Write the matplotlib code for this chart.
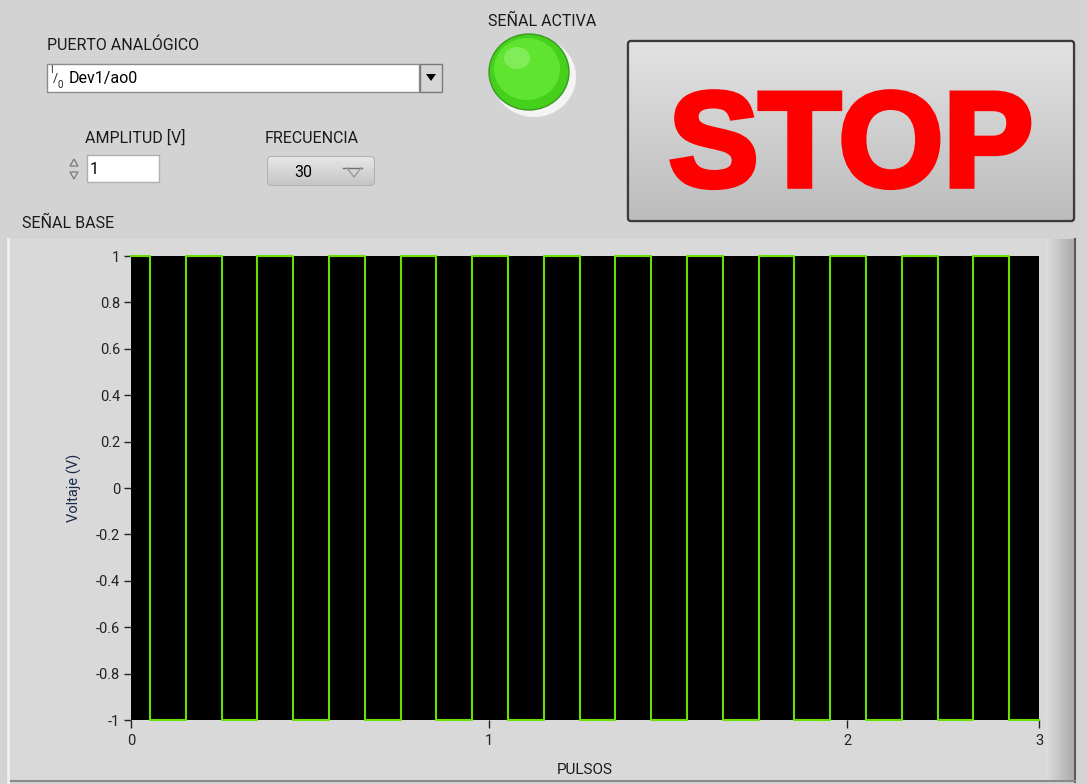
"""Panel de generación de señal cuadrada (réplica estilo LabVIEW)."""
import matplotlib

matplotlib.use("Agg")
import matplotlib.pyplot as plt
import matplotlib.patheffects as pe
import numpy as np
from matplotlib.patches import Rectangle, FancyBboxPatch, Ellipse, Polygon

# --- datos ---
pulse_t = [0.0, 0.053, 0.153, 0.253, 0.353, 0.453, 0.553, 0.653, 0.753,
           0.853, 0.953, 1.053, 1.153, 1.253, 1.353, 1.453, 1.553, 1.653,
           1.753, 1.853, 1.953, 2.053, 2.153, 2.253, 2.353, 2.453, 2.536]
pulse_v = [1, -1, 1, -1, 1, -1, 1, -1, 1, -1, 1, -1, 1, -1, 1, -1, 1, -1,
           1, -1, 1, -1, 1, -1, 1, -1, -1]
x_ticks = [0, 1, 2, 2.536]
x_tick_labels = ["0", "1", "2", "3"]
y_ticks = [1, 0.8, 0.6, 0.4, 0.2, 0, -0.2, -0.4, -0.6, -0.8, -1]
y_tick_labels = ["1", "0.8", "0.6", "0.4", "0.2", "0", "-0.2", "-0.4", "-0.6", "-0.8", "-1"]

port_name = "Dev1/ao0"
amplitude = "1"
frequency = "30"

W, H = 1087, 784
PANEL = "#d3d3d3"
FONT = ["Roboto", "DejaVu Sans"]
plt.rcParams["font.family"] = FONT

fig = plt.figure(figsize=(W / 100, H / 100), dpi=100, facecolor=PANEL)

# capa de fondo en coordenadas de pixel
bg = fig.add_axes([0, 0, 1, 1], zorder=0)
bg.set_xlim(0, W)
bg.set_ylim(H, 0)
bg.axis("off")


def gradient(ax, x0, x1, y0, y1, top, bottom, clip=None, z=1, horizontal=False):
    c0 = np.array(matplotlib.colors.to_rgb(top))
    c1 = np.array(matplotlib.colors.to_rgb(bottom))
    f = np.linspace(0, 1, 64)[:, None]
    img = (c0 * (1 - f) + c1 * f)[:, None, :]
    if horizontal:
        img = img.transpose(1, 0, 2)
    im = ax.imshow(img, extent=(x0, x1, y1, y0), aspect="auto", zorder=z,
                   interpolation="bilinear")
    if clip is not None:
        im.set_clip_path(clip)
    return im


# marco del gráfico
bg.add_patch(Rectangle((8, 239), 1067, 543, facecolor="#d9d9d9", edgecolor="none", zorder=1))
gradient(bg, 1046, 1075, 239, 782, "#dedede", "#a9a9a9", z=1, horizontal=True)
bg.plot([1075, 1075], [239, 782], color="#5a5a5a", lw=1.5, zorder=2)
bg.plot([8, 1075], [781, 781], color="#8a8a8a", lw=1.5, zorder=2)
bg.plot([8, 8], [239, 782], color="#f0f0f0", lw=2, zorder=2)

# etiquetas
bg.text(47, 45, "PUERTO ANALÓGICO", fontsize=11.5, color="#1a1a1a", va="center", zorder=3)
bg.text(85, 138, "AMPLITUD [V]", fontsize=11.5, color="#1a1a1a", va="center", zorder=3)
bg.text(265, 138, "FRECUENCIA", fontsize=11.5, color="#1a1a1a", va="center", zorder=3)
bg.text(488, 21, "SEÑAL ACTIVA", fontsize=11.5, color="#1a1a1a", va="center", zorder=3)
bg.text(22, 223, "SEÑAL BASE", fontsize=11.5, color="#1a1a1a", va="center", zorder=3)

# selector de puerto
bg.add_patch(Rectangle((47, 64), 372, 28, facecolor="white", edgecolor="#8c8c8c", lw=1, zorder=2))
bg.add_patch(Rectangle((420, 64), 22, 28, facecolor="#d6d6d6", edgecolor="#7a7a7a", lw=1, zorder=2))
bg.add_patch(Polygon([[426, 74], [436, 74], [431, 81]], closed=True, facecolor="black", zorder=3))
bg.text(50, 70, "I", fontsize=7, color="#222222", va="center", zorder=3)
bg.text(53, 78, "/", fontsize=9, color="#222222", va="center", zorder=3)
bg.text(57, 85, "0", fontsize=7, color="#222222", va="center", zorder=3)
bg.text(69, 78, port_name, fontsize=11.5, color="black", va="center", zorder=3)

# control numérico de amplitud
bg.add_patch(Rectangle((87, 155), 72, 27, facecolor="white", edgecolor="#b0b0b0", lw=1, zorder=2))
bg.add_patch(Polygon([[70, 166], [78, 166], [74, 159]], closed=True, facecolor="none",
                     edgecolor="#7a7a7a", lw=0.9, zorder=3))
bg.add_patch(Polygon([[70, 172], [78, 172], [74, 179]], closed=True, facecolor="none",
                     edgecolor="#7a7a7a", lw=0.9, zorder=3))
bg.text(90, 169, amplitude, fontsize=11.5, color="black", va="center", zorder=3)

# anillo de frecuencia
ring = FancyBboxPatch((268, 157), 106, 28, boxstyle="round,pad=0,rounding_size=3",
                      facecolor="#dcdcdc", edgecolor="#a0a0a0", lw=1, zorder=2)
bg.add_patch(ring)
gradient(bg, 268, 374, 157, 185, "#e6e6e6", "#c6c6c6", clip=ring, z=2)
bg.text(303, 172, frequency, fontsize=11.5, color="black", va="center", ha="center", zorder=3)
bg.plot([343, 362], [168, 168], color="#707070", lw=1, zorder=3)
bg.plot([347, 354, 361], [168, 177, 168], color="#9a9a9a", lw=1, zorder=3)

# LED "señal activa"
bg.add_patch(Ellipse((534, 77), 84, 80, facecolor="#f4f4f4", edgecolor="none", zorder=2))
bg.add_patch(Ellipse((529, 72), 80, 76, facecolor="#45d01c", edgecolor="#3a9a22", lw=1, zorder=3))
bg.add_patch(Ellipse((527, 69), 66, 62, facecolor="#5fe430", edgecolor="none", zorder=3))
bg.add_patch(Ellipse((517, 58), 26, 22, facecolor="#8ef06a", edgecolor="none", zorder=3, alpha=0.7))

# botón STOP
stop = FancyBboxPatch((628, 41), 446, 180, boxstyle="round,pad=0,rounding_size=3",
                      facecolor="#d0d0d0", edgecolor="#3c3c3c", lw=1.6, zorder=2)
bg.add_patch(stop)
gradient(bg, 628, 1074, 41, 221, "#e2e2e2", "#bcbcbc", clip=stop, z=2)
bg.add_patch(FancyBboxPatch((628, 41), 446, 180, boxstyle="round,pad=0,rounding_size=3",
                            facecolor="none", edgecolor="#3c3c3c", lw=1.6, zorder=3))
bg.text(851, 151, "STOP", fontsize=97, fontweight="bold", color="#ff0000",
        family=["Liberation Sans", "DejaVu Sans"], ha="center", va="center", zorder=4,
        path_effects=[pe.withStroke(linewidth=4, foreground="#ff0000", capstyle="butt",
                                    joinstyle="miter")])

# --- gráfico de la señal ---
ax = fig.add_axes([131 / W, 1 - 720 / H, (1039 - 131) / W, (720 - 256) / H], zorder=2)
ax.set_facecolor("black")
ax.step(pulse_t, pulse_v, where="post", color="#66e000", lw=1.5, clip_on=False)
ax.set_xlim(0, x_ticks[-1])
ax.set_ylim(-1, 1)
ax.set_xticks(x_ticks)
ax.set_xticklabels(x_tick_labels)
ax.set_yticks(y_ticks)
ax.set_yticklabels(y_tick_labels)
ax.tick_params(axis="both", direction="out", length=5, width=1, colors="#222222",
               labelsize=10.5, pad=3)
ax.tick_params(axis="x", length=6, pad=4)
for s in ax.spines.values():
    s.set_visible(False)
ax.set_ylabel("Voltaje (V)", fontsize=10.5, color="#1a2a4a", labelpad=10)
ax.set_xlabel("PULSOS", fontsize=11, color="#1a1a1a", labelpad=11)

fig.savefig("out.png", dpi=100, facecolor=PANEL)
